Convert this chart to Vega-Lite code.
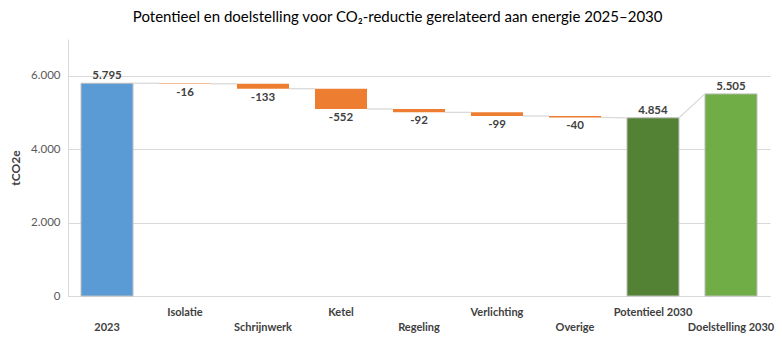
{
  "$schema": "https://vega.github.io/schema/vega-lite/v6.json",
  "width": 702,
  "height": 257,
  "autosize": "none",
  "padding": {"left": 68, "top": 39, "right": 12, "bottom": 55},
  "background": "white",
  "title": {
    "text": "Potentieel en doelstelling voor CO₂-reductie gerelateerd aan energie 2025–2030",
    "fontSize": 15,
    "fontWeight": "normal",
    "font": "Lato",
    "color": "#000000",
    "anchor": "middle",
    "frame": "bounds",
    "dx": 6,
    "offset": 14
  },
  "datasets": {
    "bars": [
      {"cat": "2023", "start": 0, "end": 5795, "value": 5795, "type": "start"},
      {"cat": "Isolatie", "start": 5795, "end": 5779, "value": -16, "type": "decrease"},
      {"cat": "Schrijnwerk", "start": 5779, "end": 5646, "value": -133, "type": "decrease"},
      {"cat": "Ketel", "start": 5646, "end": 5094, "value": -552, "type": "decrease"},
      {"cat": "Regeling", "start": 5094, "end": 5002, "value": -92, "type": "decrease"},
      {"cat": "Verlichting", "start": 5002, "end": 4903, "value": -99, "type": "decrease"},
      {"cat": "Overige", "start": 4903, "end": 4863, "value": -40, "type": "decrease"},
      {"cat": "Potentieel 2030", "start": 0, "end": 4854, "value": 4854, "type": "potentieel"},
      {"cat": "Doelstelling 2030", "start": 0, "end": 5505, "value": 5505, "type": "doel"}
    ],
    "connectors": [
      {"from": "2023", "to": "Isolatie", "y1": 5795, "y2": 5795},
      {"from": "Isolatie", "to": "Schrijnwerk", "y1": 5779, "y2": 5779},
      {"from": "Schrijnwerk", "to": "Ketel", "y1": 5646, "y2": 5646},
      {"from": "Ketel", "to": "Regeling", "y1": 5094, "y2": 5094},
      {"from": "Regeling", "to": "Verlichting", "y1": 5002, "y2": 5002},
      {"from": "Verlichting", "to": "Overige", "y1": 4903, "y2": 4903},
      {"from": "Overige", "to": "Potentieel 2030", "y1": 4863, "y2": 4854},
      {"from": "Potentieel 2030", "to": "Doelstelling 2030", "y1": 4854, "y2": 5505}
    ]
  },
  "layer": [
    {
      "data": {"name": "bars"},
      "mark": {"type": "bar", "strokeWidth": 1},
      "encoding": {
        "x": {
          "field": "cat", "type": "nominal", "sort": null,
          "scale": {"domain": ["2023", "Isolatie", "Schrijnwerk", "Ketel", "Regeling", "Verlichting", "Overige", "Potentieel 2030", "Doelstelling 2030"], "paddingInner": 0.333, "paddingOuter": 0.1667},
          "axis": {
            "title": null,
            "labelAngle": 0,
            "labelAlign": "center",
            "labelFont": "Lato",
            "labelFontSize": 11,
            "labelFontWeight": "bold",
            "labelColor": "#404040",
            "labelBaseline": "top",
            "labelOverlap": false,
            "labelLimit": 200,
            "labelPadding": {"condition": {"test": "indexof(['Isolatie','Ketel','Verlichting','Potentieel 2030'], datum.value) >= 0", "value": 10}, "value": 25},
            "tickSize": 0,
            "domainColor": "#d9d9d9",
            "domainWidth": 1
          }
        },
        "y": {
          "field": "start", "type": "quantitative",
          "scale": {"domain": [0, 7000]},
          "axis": {
            "title": "tCO2e",
            "titleFont": "Lato",
            "titleFontSize": 12,
            "titleFontWeight": "bold",
            "titleColor": "#404040",
            "titlePadding": 8,
            "values": [0, 1000, 2000, 3000, 4000, 5000, 6000, 7000],
            "tickCount": 7,
            "labelExpr": "replace(format(datum.value, ','), ',', '.')",
            "labelOverlap": false,
            "labelBound": false,
            "labelFont": "Lato",
            "labelFontSize": 11.5,
            "labelColor": "#595959",
            "labelPadding": 8,
            "tickSize": 0,
            "domainColor": "#d9d9d9",
            "gridColor": "#d9d9d9",
            "gridWidth": 1
          }
        },
        "y2": {"field": "end"},
        "color": {
          "field": "type", "type": "nominal", "legend": null,
          "scale": {"domain": ["start", "decrease", "potentieel", "doel"], "range": ["#5b9bd5", "#ed7d31", "#548235", "#70ad47"]}
        },
        "stroke": {"condition": {"test": "datum.type === 'decrease'", "value": null}, "value": "#c0c0c0"}
      }
    },
    {
      "data": {"name": "connectors"},
      "mark": {"type": "rule", "color": "#d9d9d9", "strokeWidth": 1.3},
      "encoding": {
        "x": {"field": "from", "type": "nominal", "bandPosition": 1, "sort": null},
        "x2": {"field": "to", "bandPosition": 0},
        "y": {"field": "y1", "type": "quantitative"},
        "y2": {"field": "y2"}
      }
    },
    {
      "data": {"name": "bars"},
      "transform": [
        {"filter": "datum.type !== 'decrease'"},
        {"calculate": "replace(format(datum.value, ','), ',', '.')", "as": "lbl"}
      ],
      "mark": {"type": "text", "baseline": "bottom", "dy": -2, "font": "Lato", "fontSize": 11.5, "fontWeight": "bold", "color": "#404040"},
      "encoding": {
        "x": {"field": "cat", "type": "nominal", "sort": null},
        "y": {"field": "end", "type": "quantitative"},
        "text": {"field": "lbl", "type": "nominal"}
      }
    },
    {
      "data": {"name": "bars"},
      "transform": [
        {"filter": "datum.type === 'decrease'"},
        {"calculate": "'-' + format(-datum.value, 'd')", "as": "lbl"}
      ],
      "mark": {"type": "text", "baseline": "top", "dy": 3, "font": "Lato", "fontSize": 11.5, "fontWeight": "bold", "color": "#404040"},
      "encoding": {
        "x": {"field": "cat", "type": "nominal", "sort": null},
        "y": {"field": "end", "type": "quantitative"},
        "text": {"field": "lbl", "type": "nominal"}
      }
    }
  ],
  "config": {
    "view": {"stroke": null},
    "axis": {"labelOverlap": false},
    "axisY": {"labelOverlap": false, "tickCount": 7, "grid": true},
    "axisQuantitative": {"tickCount": 7}
  }
}
